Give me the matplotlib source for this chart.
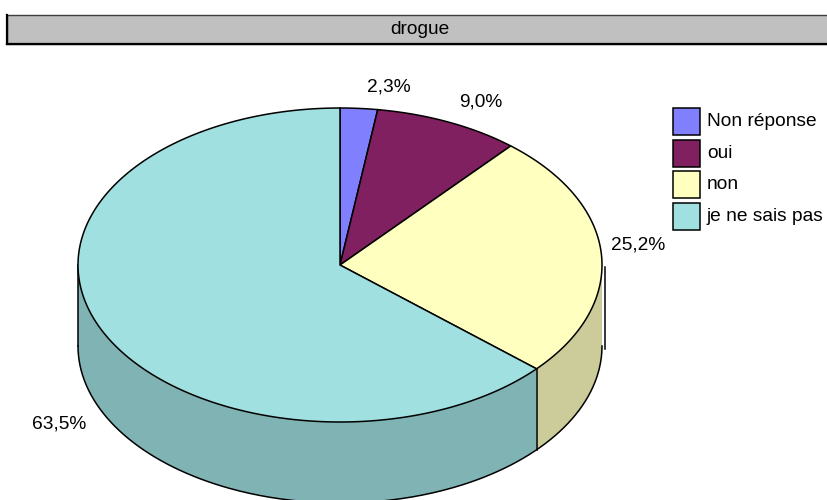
"""
Tilted 3D-style pie for the "drogue" question
"""
import numpy as np
import matplotlib.pyplot as plt
from matplotlib.patches import Polygon, Rectangle
from matplotlib.colors import to_rgb

plt.rcParams["font.family"] = ["Liberation Sans", "DejaVu Sans"]

title = "drogue"
categories = ["Non réponse", "oui", "non", "je ne sais pas"]
shares = [2.3, 9.0, 25.2, 63.5]
value_labels = ["2,3%", "9,0%", "25,2%", "63,5%"]
colors = ["#8080FF", "#802060", "#FFFFC0", "#A0E0E0"]

# canvas in pixels, pie geometry
W, H = 827, 500
cx, cy = 340, 265
rx, ry = 262, 157
depth = 81
FS = 13.8


def rim(t, drop=0.0):
    return cx + rx * np.cos(t), cy - ry * np.sin(t) + drop


def shade(c, k=0.8):
    return tuple(v * k for v in to_rgb(c))


fig = plt.figure(figsize=(W / 100, H / 100), dpi=100)
ax = fig.add_axes([0, 0, 1, 1])
ax.set_xlim(0, W)
ax.set_ylim(H, 0)
ax.axis("off")

# slice boundaries, clockwise from 12 o'clock
fracs = np.array(shares) / np.sum(shares)
bounds = np.deg2rad(90 - 360 * np.concatenate([[0], np.cumsum(fracs)]))

# side wall (only the front half, angles between -pi and 0)
for i, c in enumerate(colors):
    hi = min(bounds[i], 0.0)
    lo = max(bounds[i + 1], -np.pi)
    if hi <= lo:
        continue
    t = np.linspace(hi, lo, 120)
    xt, yt = rim(t)
    xb, yb = rim(t[::-1], depth)
    pts = np.column_stack([np.r_[xt, xb], np.r_[yt, yb]])
    ax.add_patch(Polygon(pts, closed=True, facecolor=shade(c), edgecolor="none", zorder=1))

t = np.linspace(-np.pi, 0, 300)
ax.plot(*rim(t, depth), color="black", lw=1.1, zorder=2)
x0, y0 = rim(-np.pi)
ax.plot([x0, x0], [y0, y0 + depth], color="black", lw=1.1, zorder=2)
for b in bounds:
    if -np.pi < b < 0:
        xe, ye = rim(b)
        ax.plot([xe, xe], [ye, ye + depth], color="black", lw=1.1, zorder=2)
xr, yr = rim(0.0)
ax.plot([xr + 2.5, xr + 2.5], [yr + 2, yr + depth + 3], color="black", lw=1.1, zorder=2)

# top face
for i, c in enumerate(colors):
    t = np.linspace(bounds[i], bounds[i + 1], 200)
    xt, yt = rim(t)
    pts = np.column_stack([np.r_[cx, xt], np.r_[cy, yt]])
    ax.add_patch(Polygon(pts, closed=True, facecolor=c, edgecolor="black",
                         lw=1.1, joinstyle="miter", zorder=3))

# percentage labels just outside each slice
for i, lab in enumerate(value_labels):
    m = 0.5 * (bounds[i] + bounds[i + 1])
    front = np.sin(m) < 0
    ex, ey = rim(m, depth if front else 0)
    if front:
        ex += 13 * np.cos(m) - 3
    else:
        ex += 9 * np.cos(m) + 7 * np.sin(m)
    ey -= 13 * np.sin(m)
    ax.text(ex, ey, lab, fontsize=FS,
            ha="left" if np.cos(m) > 0 else "right",
            va="top" if front else "bottom", zorder=4)

# legend
for i, (name, c) in enumerate(zip(categories, colors)):
    y = 108 + 31.7 * i
    ax.add_patch(Rectangle((673, y), 27, 27, facecolor=c, edgecolor="black", lw=1.1, zorder=3))
    ax.text(707, y + 13.5, name, fontsize=FS, va="center", ha="left", zorder=4)

# title bar
ax.add_patch(Rectangle((7, 15), 840, 29, facecolor="#C0C0C0", edgecolor="#404040", lw=1.0, zorder=3))
ax.plot([7, W], [44, 44], color="black", lw=1.6, zorder=4)
ax.plot([7, 7], [15, 44], color="black", lw=1.6, zorder=4)
ax.text(420, 30, title, fontsize=FS, ha="center", va="center", zorder=4)

fig.savefig("out.png", dpi=100)
